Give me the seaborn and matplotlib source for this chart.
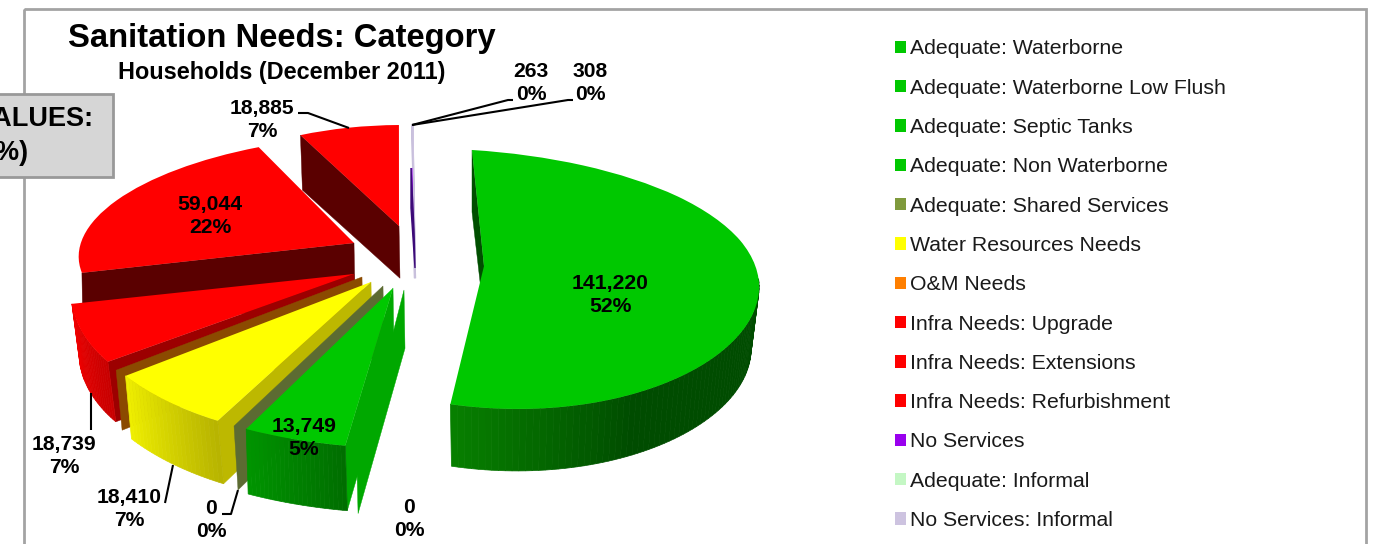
import numpy as np
import matplotlib
matplotlib.use("Agg")
import matplotlib.pyplot as plt
from matplotlib.patches import Patch, Rectangle
from matplotlib.transforms import Transform
import seaborn as sns

# ---- data -----------------------------------------------------------------
categories = ["Adequate: Waterborne", "Adequate: Waterborne Low Flush", "Adequate: Septic Tanks",
              "Adequate: Non Waterborne", "Adequate: Shared Services", "Water Resources Needs",
              "O&M Needs", "Infra Needs: Upgrade", "Infra Needs: Extensions",
              "Infra Needs: Refurbishment", "No Services", "Adequate: Informal", "No Services: Informal"]
households = [141220, 0, 13749, 0, 0, 18410, 0, 18739, 59044, 18885, 263, 0, 308]
colors = ["#00c800", "#00c800", "#00c800", "#00c800", "#7f9a3c", "#ffff00", "#ff7f00",
          "#ff0000", "#ff0000", "#ff0000", "#9900ee", "#c4f7c4", "#cdc3e0"]
title_text = "Sanitation Needs: Category"
subtitle_text = "Households (December 2011)"

# ---- styling: where each exploded slice sits, and how it is shaded --------
# apex x, apex y, rx, ry, shear x, shear y, perspective x, perspective y,
# depth, depth growth, bottom shift, zorder
placement = {
    "Adequate: Waterborne":           (484, 266, 275, 129, -8, 17, -4, 13, 62, 0, 0, 5),
    "Adequate: Waterborne Low Flush": (404, 290, 343, 185, 0, 0, 0, 0, 77, -37, 1, 60),
    "Adequate: Septic Tanks":         (393, 288, 327, 160, 3, 6, 0, 0, 65, 0, 2, 70),
    "Adequate: Non Waterborne":       (393, 288, 327, 160, 3, 6, 0, 0, 65, 0, 2, 70),
    "Adequate: Shared Services":      (383, 286, 338, 156, 0, 0, 0, 0, 64, 0, 4, 55),
    "Water Resources Needs":          (371, 282, 297, 159, 25, 9, 0, 0, 63, 0, 6, 50),
    "O&M Needs":                      (362, 277, 318, 147, 0, 0, 0, 0, 60, 0, 6, 45),
    "Infra Needs: Upgrade":           (354, 274, 279, 147, 48, 7, 0, 0, 60, 0, 8, 40),
    "Infra Needs: Extensions":        (354, 243, 274, 108, 27, -3, 0, 0, 60, 0, 1, 30),
    "Infra Needs: Refurbishment":     (399, 226, 232, 101, 3, 0, 0, 0, 55, 0, 2, 20),
    "No Services":                    (414, 230, 226, 62, 0, 0, 0, 0, 40, 0, 0, 16),
    "Adequate: Informal":             (413, 226, 226, 101, 0, 0, 0, 0, 55, 0, 0, 15),
    "No Services: Informal":          (414, 226, 226, 101, 0, 0, 0, 0, 55, 0, 1, 14),
}
radial_wall = {
    "Adequate: Waterborne": "#004f00", "Adequate: Waterborne Low Flush": "#00a800",
    "Adequate: Septic Tanks": "#00a800", "Adequate: Shared Services": "#5c6b32",
    "Water Resources Needs": "#bdb800", "O&M Needs": "#8b4a00", "Infra Needs: Upgrade": "#9c0000",
    "Infra Needs: Extensions": "#5a0000", "Infra Needs: Refurbishment": "#5a0000",
    "No Services": "#3c0a78", "No Services: Informal": "#c8c0dc",
}
wall_line = {"No Services": 1.0, "No Services: Informal": 1.6}
inward_bottom = {"Adequate: Waterborne": 8}
# right-hand colour, left-hand colour, share of the arc held at the right-hand colour
outer_wall = {
    "Adequate: Waterborne": ("#004c00", "#077f00", 0.6),
    "Adequate: Septic Tanks": ("#006e00", "#009400", 0.0),
    "Water Resources Needs": ("#b8b400", "#eeee00", 0.0),
    "Infra Needs: Upgrade": ("#c80000", "#f00000", 0.0),
}
# value labels: category -> centre of the two text lines
label_pos = {
    "Adequate: Waterborne": (610, 295), "Adequate: Waterborne Low Flush": (409, 519),
    "Adequate: Septic Tanks": (304, 438), "Adequate: Shared Services": (211, 520),
    "Water Resources Needs": (129, 509), "Infra Needs: Upgrade": (64, 456),
    "Infra Needs: Extensions": (210, 216), "Infra Needs: Refurbishment": (262, 120),
    "No Services": (531, 83), "No Services: Informal": (590, 83),
}
leaders = [
    ((298, 308, 349), (113, 113, 128)),
    ((573, 568, 412), (100, 100, 125)),
    ((513, 508, 412), (100, 100, 125)),
    ((91, 91), (393, 430)),
    ((173, 165), (465, 503)),
    ((238, 231, 222), (490, 514, 514)),
]


class SliceProjection(Transform):
    """Tilts the unit pie and moves one slice to its exploded position."""
    input_dims = output_dims = 2
    has_inverse = False

    def __init__(self, ax0, ay0, rx, ry, hx, hy, qx, qy):
        super().__init__()
        self.p = (ax0, ay0, rx, ry, hx, hy, qx, qy)

    def transform_non_affine(self, values):
        ax0, ay0, rx, ry, hx, hy, qx, qy = self.p
        xy = np.asarray(values, dtype=float).reshape(-1, 2)
        s, c = xy[:, 0], xy[:, 1]
        return np.column_stack((ax0 + rx * s + hx * c + qx * c * c,
                                ay0 - ry * c + hy * s + qy * c * c))


def lerp_color(a, b, t):
    ca, cb = np.array(matplotlib.colors.to_rgb(a)), np.array(matplotlib.colors.to_rgb(b))
    return tuple(ca + (cb - ca) * t)


sns.set_theme(style="white")
plt.rcParams["font.family"] = ["Liberation Sans", "DejaVu Sans"]
fig = plt.figure(figsize=(13.74, 5.44), dpi=100)
ax = fig.add_axes([0, 0, 1, 1])

palette = sns.color_palette(colors, n_colors=len(colors))
wedges, _ = ax.pie(households, startangle=90, counterclock=False, colors=palette, radius=1,
                   wedgeprops=dict(linewidth=0))
ax.set_aspect("auto")
ax.set_xlim(0, 1374)
ax.set_ylim(544, 0)
ax.axis("off")

for name, wedge in zip(categories, wedges):
    ax0, ay0, rx, ry, hx, hy, qx, qy, depth, grow, shift, z = placement[name]
    proj = SliceProjection(ax0, ay0, rx, ry, hx, hy, qx, qy)
    wedge.set_transform(proj + ax.transData)
    wedge.set_zorder(z if name == "No Services" else z + 3)
    wedge.set_clip_on(False)
    a1, a2 = 90 - wedge.theta2, 90 - wedge.theta1   # clockwise from the top
    inward = inward_bottom.get(name, 0)

    def top_bottom(theta):
        s, c = np.sin(np.radians(theta)), np.cos(np.radians(theta))
        px, py = proj.transform_non_affine([[s, c]])[0]
        return (px, py), (px + shift - inward * s, py + depth - grow * c)

    if name in radial_wall:
        (ox, oy), (bx, by) = top_bottom(a1)
        ax.fill([ax0, ox, bx, ax0 + 1], [ay0, oy, by, ay0 + depth * 0.95 + grow * 0.4],
                color=radial_wall[name], lw=wall_line.get(name, 0.3), zorder=z + 1)
    if name in outer_wall:
        c1, c2, hold = outer_wall[name]
        lo = max(a1, 88)
        steps = np.linspace(lo, a2, 70 if a2 - lo > 60 else 24)
        for i in range(len(steps) - 1):
            (tx0, ty0), (bx0, by0) = top_bottom(steps[i])
            (tx1, ty1), (bx1, by1) = top_bottom(steps[i + 1])
            t = i / (len(steps) - 2)
            col = lerp_color(c1, c2, max(0.0, (t - hold) / (1 - hold)))
            ax.fill([tx0, tx1, bx1, bx0], [ty0, ty1, by1, by0], color=col, lw=0.5, zorder=z + 2)

# value labels
total = sum(households)
for name, value in zip(categories, households):
    if name in label_pos:
        x, y = label_pos[name]
        ax.text(x, y, f"{value:,}\n{value / total:.0%}", ha="center", va="center", fontsize=15.2,
                fontweight="bold", color="black", linespacing=1.22, zorder=200)

for xs, ys in leaders:
    ax.plot(xs, ys, color="black", lw=1.5, zorder=150, solid_capstyle="butt")

# titles
ax.text(282, 39, title_text, ha="center", va="center", fontsize=23.6, fontweight="bold", color="black", zorder=200)
ax.text(282, 72, subtitle_text, ha="center", va="center", fontsize=16.9, fontweight="bold", color="black", zorder=200)

# outer frame and the note box cut off on the left
ax.add_patch(Rectangle((24, 9), 1342, 600, fill=False, edgecolor="#a3a3a3", lw=2, zorder=1))
ax.add_patch(Rectangle((-20, 94), 133, 83, facecolor="#d6d6d6", edgecolor="#999999", lw=2, zorder=180))
ax.text(94, 119, "VALUES:", ha="right", va="center", fontsize=19.5, fontweight="bold", color="black", zorder=200)
ax.text(29, 153, "(%)", ha="right", va="center", fontsize=19.5, fontweight="bold", color="black", zorder=200)

# legend
handles = [Patch(facecolor=c, edgecolor="none") for c in palette]
leg = ax.legend(handles, categories, loc="upper left", bbox_to_anchor=(895, 39.5), bbox_transform=ax.transData,
                frameon=False, fontsize=15.3, labelspacing=0.955, handlelength=0.52, handleheight=0.52,
                handletextpad=0.2, borderpad=0, borderaxespad=0, labelcolor="#1a1a1a")
leg.set_zorder(200)

fig.savefig("out.png", dpi=100, facecolor="white")
